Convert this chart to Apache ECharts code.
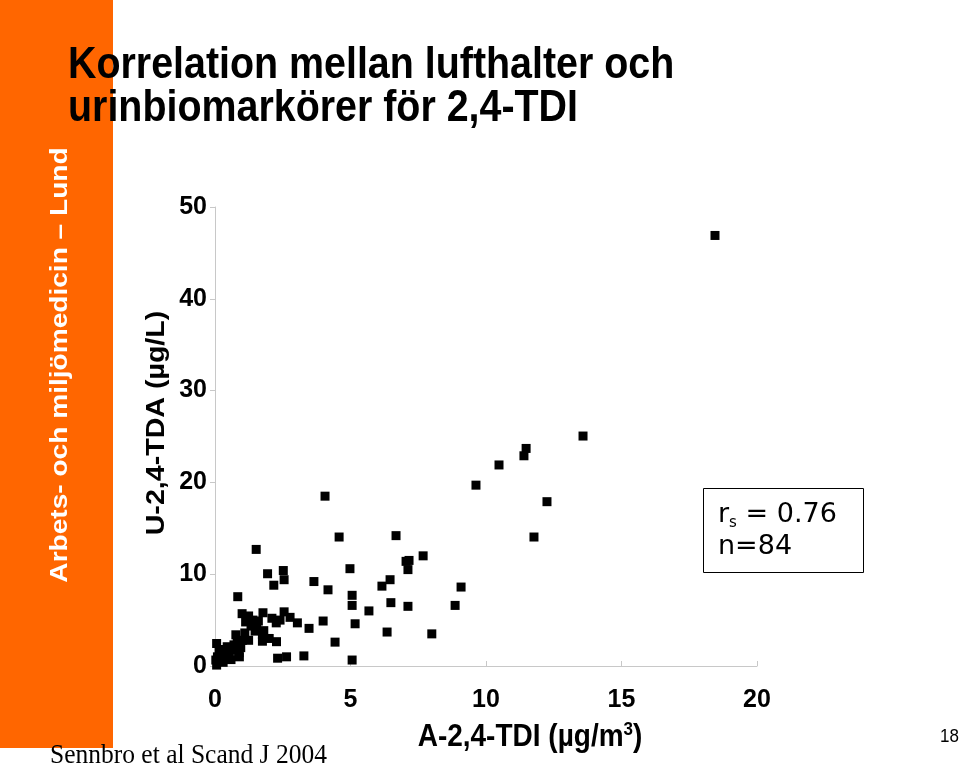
<!DOCTYPE html>
<html><head><meta charset="utf-8">
<script src="https://cdn.jsdelivr.net/npm/echarts@6/dist/echarts.min.js"></script>
<style>html,body{margin:0;padding:0;background:#fff}#c{width:960px;height:765px}</style>
</head><body><div id="c"></div>
<script>
// A-2,4-TDI (µg/m³)
const airTDI = [18.45,13.58,11.48,11.40,10.48,9.63,12.25,11.77,4.06,4.58,6.68,7.68,7.16,7.05,7.12,4.98,9.08,8.86,8.0,6.46,6.16,6.49,7.12,6.35,5.68,5.06,5.06,5.17,5.06,4.43,3.99,4.17,3.65,3.47,3.28,
1.52,1.94,2.52,2.17,2.55,0.84,1.0,1.24,1.13,1.77,2.55,2.77,3.04,2.4,2.26,1.33,1.54,1.48,1.8,1.75,0.77,0.82,1.01,1.24,1.75,2.27,0.06,0.45,0.68,0.89,0.9,0.59,0.37,0.21,0.09,0.03,0.06,2.31,2.64,
0.5,0.3,1.1,1.4,2.0,0.15,0.7,1.6,2.1,0.95];
// U-2,4-TDA (µg/L)
const urineTDA = [46.9,25.05,23.7,22.9,21.9,19.7,17.9,14.05,18.5,14.05,14.2,12.0,11.5,11.4,10.5,10.6,8.6,6.6,3.5,9.4,8.7,6.9,6.5,3.7,6.0,7.7,6.6,4.6,0.65,2.6,4.9,8.3,9.2,4.1,1.1,
12.7,10.05,10.4,8.8,9.4,7.55,5.7,5.45,4.8,5.8,5.9,5.3,4.7,5.0,4.7,4.35,4.35,3.8,3.85,3.4,3.4,2.5,2.8,2.8,2.7,2.65,2.45,2.1,1.7,1.45,1.0,0.7,1.2,1.4,1.0,0.65,0.1,0.85,1.0,
1.5,0.4,3.6,5.0,3.0,1.8,2.3,4.9,5.2,2.0];
const xTicks = [0,5,10,15,20];
const yTicks = [0,10,20,30,40,50];
const titleLines = ['Korrelation mellan lufthalter och','urinbiomarkörer för 2,4-TDI'];
const sideText = 'Arbets- och miljömedicin – Lund';
const xName = ['A-2,4-TDI (µg/m','3',')'];
const yName = 'U-2,4-TDA (µg/L)';
const statRs = '0.76';
const statN = '84';
const sourceText = 'Sennbro et al Scand J 2004';
const pageNum = '18';

const pts = airTDI.map((v,i)=>[v, urineTDA[i]]);
const F = '"Liberation Sans", Arial, sans-serif';
const DJ = '"DejaVu Sans", sans-serif';
const chart = echarts.init(document.getElementById('c'));
chart.setOption({
  animation:false,
  backgroundColor:'#fff',
  grid:{left:215,right:203,top:207,bottom:99},
  xAxis:{type:'value',min:xTicks[0],max:xTicks[xTicks.length-1],interval:5,
    axisLine:{lineStyle:{color:'#c8c8c8',width:1}},
    axisTick:{show:true,inside:true,length:5,lineStyle:{color:'#c8c8c8'}},
    splitLine:{show:false},
    axisLabel:{color:'#000',fontFamily:F,fontWeight:'bold',fontSize:25,margin:22}
  },
  yAxis:{type:'value',min:yTicks[0],max:yTicks[yTicks.length-1],interval:10,
    axisLine:{show:true,lineStyle:{color:'#c8c8c8',width:1}},
    axisTick:{show:true,length:5,lineStyle:{color:'#c8c8c8'}},
    splitLine:{show:false},
    axisLabel:{color:'#000',fontFamily:F,fontWeight:'bold',fontSize:25,margin:8}
  },
  series:[{type:'scatter',data:pts,symbol:'rect',symbolSize:9,itemStyle:{color:'#000',opacity:1}}],
  graphic:[
    {type:'rect',left:0,top:0,shape:{width:113,height:748},style:{fill:'#ff6600'},z:1},
    {type:'text',x:60,y:365,rotation:Math.PI/2,scaleX:1.17,style:{text:sideText,fill:'#fff',font:'bold 24px '+F,align:'center',verticalAlign:'middle'},z:2},
    {type:'text',x:68,y:45,scaleY:1.12,style:{text:titleLines.join('\n'),fill:'#000',font:'bold 39.4px '+F,lineHeight:38,verticalAlign:'top'},z:3},
    {type:'text',x:530,y:737,scaleY:1.12,style:{
      text:'{a|'+xName[0]+'}{s|'+xName[1]+'}{a|'+xName[2]+'}',align:'center',verticalAlign:'middle',
      rich:{a:{fontFamily:F,fontWeight:'bold',fontSize:28,color:'#000',lineHeight:30},
            s:{fontFamily:F,fontWeight:'bold',fontSize:17,color:'#000',verticalAlign:'top',lineHeight:30}}},z:3},
    {type:'text',x:157,y:423,rotation:Math.PI/2,scaleX:1.1,style:{text:yName,fill:'#000',font:'bold 26px '+F,align:'center',verticalAlign:'middle'},z:3},
    {type:'rect',shape:{x:703.5,y:488.5,width:160,height:84},style:{fill:'#fff',stroke:'#000',lineWidth:1},z:3},
    {type:'text',x:718,y:515,style:{
      text:'{m|r}{s|s}{m| = '+statRs+'}',verticalAlign:'middle',
      rich:{m:{fontFamily:DJ,fontSize:27,color:'#000',lineHeight:32},
            s:{fontFamily:DJ,fontSize:15,color:'#000',verticalAlign:'bottom',lineHeight:32}}},z:4},
    {type:'text',x:718,y:547,style:{text:'n='+statN,fill:'#000',font:'27px '+DJ,verticalAlign:'middle'},z:4},
    {type:'text',x:50,y:756,scaleY:1.1,style:{text:sourceText,fill:'#000',font:'25.5px "Liberation Serif", serif',verticalAlign:'middle'},z:5},
    {type:'text',x:940,y:737,scaleY:1.1,style:{text:pageNum,fill:'#000',font:'17px '+F,verticalAlign:'middle'},z:5}
  ]
});
</script></body></html>
